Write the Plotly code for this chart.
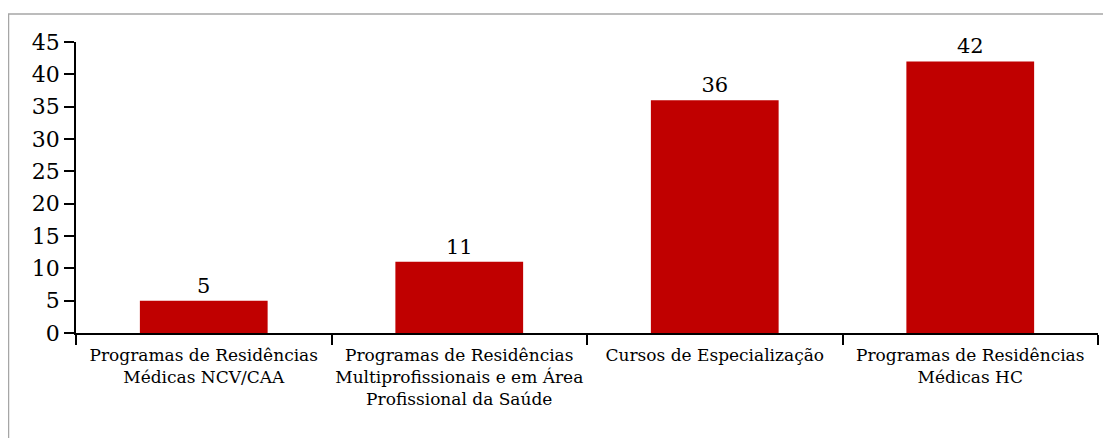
import plotly.graph_objects as go

categories = [
    "Programas de Residências<br>Médicas NCV/CAA",
    "Programas de Residências<br>Multiprofissionais e em Área<br>Profissional da Saúde",
    "Cursos de Especialização",
    "Programas de Residências<br>Médicas HC",
]
values = [5, 11, 36, 42]
y_ticks = [0, 5, 10, 15, 20, 25, 30, 35, 40, 45]

FONT = "DejaVu Serif"

fig = go.Figure(
    go.Bar(
        x=categories,
        y=values,
        marker=dict(color="#C00000", line=dict(width=0)),
        width=0.5,
        text=[str(v) for v in values],
        textposition="outside",
        cliponaxis=False,
        textfont=dict(family=FONT, size=21, color="#000000"),
    )
)

W, H = 1111, 438
L, R, T, B = 68, 21, 34, 113
pw, ph = W - L - R, H - T - B


def px_x(p):
    return (p - L) / pw


def px_y(p):
    return (H - B - p) / ph


fig.add_shape(
    type="rect", xref="paper", yref="paper",
    x0=px_x(0.5), x1=px_x(1100), y0=px_y(460), y1=px_y(6),
    line=dict(color="#A6A6A6", width=1.5), fillcolor="rgba(0,0,0,0)", layer="below",
)

fig.update_layout(
    width=W, height=H,
    margin=dict(l=L, r=R, t=T, b=B, autoexpand=False),
    paper_bgcolor="white", plot_bgcolor="white",
    showlegend=False,
    font=dict(family=FONT, color="#000000"),
    xaxis=dict(
        type="category",
        showline=True, linecolor="#000000", linewidth=1.5,
        ticks="outside", tickson="boundaries", ticklen=10, tickwidth=1.5, tickcolor="#000000",
        tickfont=dict(family=FONT, size=17, color="#000000"),
        ticklabelstandoff=6,
        tickangle=0, automargin=False,
        showgrid=False, zeroline=False,
    ),
    yaxis=dict(
        range=[0, 45],
        tickvals=y_ticks,
        showline=True, linecolor="#000000", linewidth=1.5,
        ticks="outside", ticklen=10, tickwidth=1.5, tickcolor="#000000",
        tickfont=dict(family=FONT, size=22, color="#000000"),
        automargin=False,
        showgrid=False, zeroline=False,
    ),
    bargap=0.5,
)

fig.write_html("out.html")
